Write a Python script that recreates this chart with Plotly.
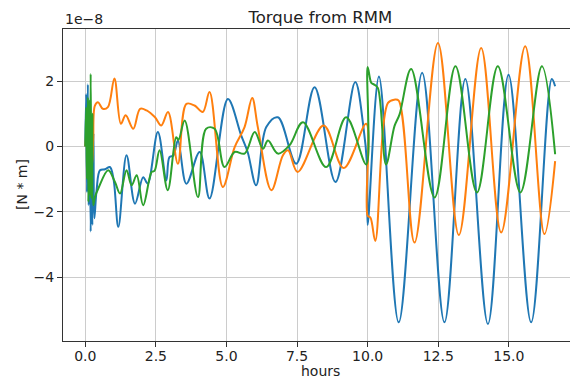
import plotly.graph_objects as go

# values in units of 1e-8 N*m, x in hours
blue_x = [0.0, 0.03, 0.06, 0.09, 0.12, 0.15, 0.19, 0.22, 0.25, 0.29, 0.32,
          0.40, 0.52, 0.70, 0.87, 1.00, 1.17, 1.46, 1.76, 2.05, 2.21, 2.57, 2.87,
          2.98, 3.12, 3.28, 3.58, 4.05, 4.40, 5.05, 5.52, 5.75, 6.05, 6.41, 6.82,
          7.47, 8.12, 8.86, 9.56, 9.85, 9.98, 10.0, 10.40, 11.10, 11.93, 12.72,
          13.46, 14.26, 14.99, 15.79, 16.52, 16.64]
blue_y = [0.0, 1.6, -1.4, 1.9, -1.8, 1.3, -2.6, 0.2, -2.4, 0.4, -2.2,
          -1.34, -0.73, -0.70, -0.63, -1.0, -2.46, -0.27, -1.75, -0.94, -1.14, 0.44, -1.04,
          -0.33, -0.28, 0.18, -1.14, -0.17, -1.59, 1.45, 0.34, -0.17, -1.19, 0.59, 0.89,
          -0.53, 1.81, -1.09, 1.97, 0.6, -0.6, -2.4, 2.14, -5.38, 2.25, -5.38,
          2.06, -5.43, 2.19, -5.38, 2.06, 1.84]

orange_x = [0.0, 0.04, 0.08, 0.12, 0.16, 0.20, 0.24, 0.28, 0.34, 0.45, 0.62, 0.80,
            1.03, 1.26, 1.43, 1.70, 1.94, 2.17, 2.47, 2.69, 2.93, 3.28, 3.58, 3.87,
            4.16, 4.40, 4.87, 5.29, 5.64, 5.91, 6.11, 6.59, 7.0, 7.18, 7.52, 8.44,
            9.15, 9.95, 10.0, 10.10, 10.27, 10.72, 10.95, 11.10, 11.66, 12.49, 13.23,
            14.02, 14.73, 15.58, 16.26, 16.64]
orange_y = [0.0, 0.4, -0.5, 0.5, -0.4, 0.3, -0.6, 0.2, 1.25, 1.35, 1.15, 1.2,
            2.08, 0.69, 0.95, 0.54, 1.15, 1.1, 0.89, 0.64, 1.05, -0.53, 1.30, 1.25,
            1.05, 1.66, -1.24, -0.02, 0.59, 1.48, 0.59, -1.34, -0.27, -0.12, -0.78, 0.64,
            -0.66, 0.69, -2.12, -2.18, -2.89, 1.33, 1.43, 1.40, -2.94, 3.16, -2.71,
            3.01, -2.63, 3.06, -2.68, -0.45]

green_x = [0.0, 0.03, 0.06, 0.09, 0.11, 0.14, 0.17, 0.19, 0.22, 0.25, 0.28,
           0.34, 0.46, 0.81, 1.05, 1.23, 1.46, 1.64, 1.82, 2.05, 2.35, 2.45, 2.63,
           2.92, 3.22, 3.30, 3.52, 3.99, 4.28, 4.58, 4.93, 5.29, 5.64, 6.0, 6.29,
           6.47, 6.82, 7.23, 7.71, 8.53, 9.24, 9.95, 10.0, 10.13, 10.23, 10.36,
           10.65, 10.95, 11.13, 11.54, 12.37, 13.11, 13.87, 14.61, 15.41, 16.17, 16.64]
green_y = [0.0, 1.2, -1.0, 1.5, -1.7, 1.4, -1.5, 2.22, -1.6, 1.0, -1.8,
           -1.55, -1.29, -0.73, -1.09, -1.44, -0.73, -1.19, -0.88, -1.80, -0.78, -0.75, -0.12,
           -1.34, 0.28, 0.2, 0.79, -1.55, 0.54, 0.54, -0.63, -0.17, -0.22, 0.44, -0.07,
           0.18, -0.22, 0.03, 0.74, -0.63, 0.89, -0.55, 2.43, 1.94, 1.89, 1.79,
           -0.55, 0.62, 0.98, 2.37, -1.56, 2.45, -1.41, 2.45, -1.41, 2.45, -0.24]

scale = 1e-8
x_ticks = [0, 2.5, 5, 7.5, 10, 12.5, 15]
y_ticks = [-4, -2, 0, 2]
y_tick_text = ["\u22124", "\u22122", "0", "2"]

series = [("#1f77b4", blue_x, blue_y), ("#ff7f0e", orange_x, orange_y),
          ("#2ca02c", green_x, green_y)]

fig = go.Figure()
for color, xs, ys in series:
    fig.add_trace(go.Scatter(x=xs, y=[v * scale for v in ys], mode="lines",
                             line=dict(color=color, width=2, shape="spline", smoothing=1.0),
                             showlegend=False, hoverinfo="skip"))

font = "DejaVu Sans"
# page body has an 8px margin, so the figure is 8px smaller than the window
fig.update_layout(
    width=570, height=371,
    margin=dict(l=55, r=0, t=21, b=38),
    paper_bgcolor="white", plot_bgcolor="white",
    font=dict(family=font, size=14, color="#222"),
    title=dict(text="Torque from RMM", x=0.548, xanchor="center", y=0.975, yanchor="middle",
               font=dict(size=16.5, color="#222")),
)
fig.update_xaxes(range=[-0.79, 17.45], tickvals=x_ticks, tickformat=".1f",
                 showgrid=True, gridcolor="#cccccc", gridwidth=1,
                 showline=True, linecolor="#333", linewidth=1.2, mirror=True,
                 ticks="outside", ticklen=5, tickcolor="#333", zeroline=False,
                 ticklabelstandoff=-3,
                 tickfont=dict(size=14, color="#222"))
fig.update_yaxes(range=[-5.95 * scale, 3.59 * scale], tickvals=[v * scale for v in y_ticks],
                 ticktext=y_tick_text,
                 showgrid=True, gridcolor="#cccccc", gridwidth=1,
                 showline=True, linecolor="#333", linewidth=1.2, mirror=True,
                 ticks="outside", ticklen=5, tickcolor="#333", zeroline=False,
                 tickfont=dict(size=14, color="#222"))

fig.add_annotation(text="1e\u22128", xref="paper", yref="paper", x=0, y=1.0,
                   xanchor="left", yanchor="bottom", showarrow=False, yshift=0,
                   font=dict(size=14, color="#222"))
fig.add_annotation(text="[N * m]", xref="paper", yref="paper", x=0, y=0.5,
                   xanchor="center", yanchor="middle", textangle=-90, showarrow=False,
                   xshift=-41, font=dict(size=14, color="#222"))
fig.add_annotation(text="hours", xref="paper", yref="paper", x=0.5, y=0,
                   xanchor="center", yanchor="middle", showarrow=False,
                   yshift=-30, font=dict(size=14, color="#222"))

fig.write_html("out.html")
